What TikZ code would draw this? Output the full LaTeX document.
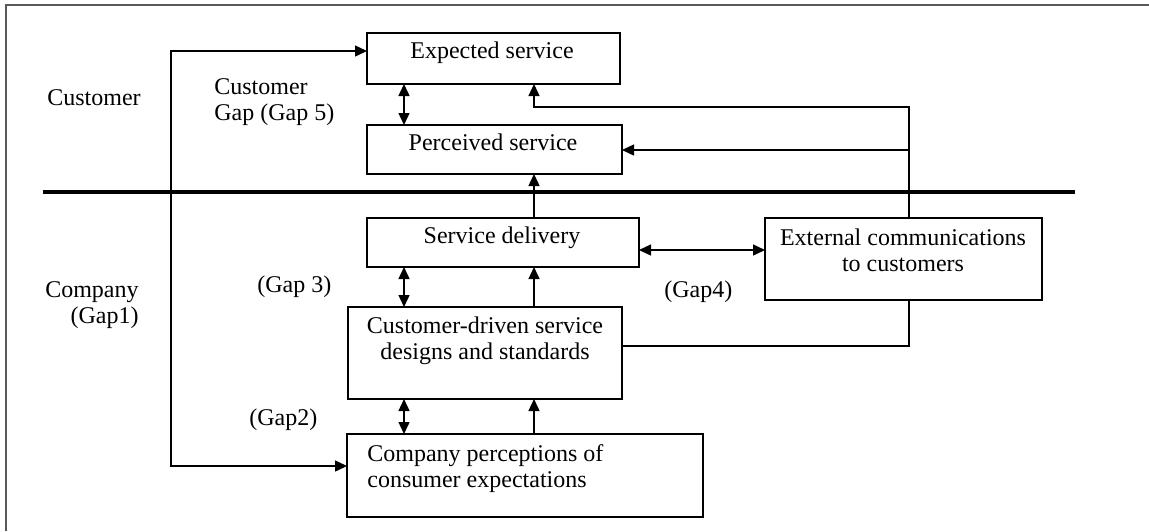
\documentclass[tikz,border=0pt]{standalone}
\usepackage{fontspec}
\setmainfont{Liberation Serif}
\usetikzlibrary{arrows.meta,fit}
\begin{document}
\begin{tikzpicture}[x=0.5pt,y=-0.5pt,
  box/.style={draw, line width=0.8pt, inner sep=0pt, outer sep=0pt},
  txt/.style={inner sep=0pt, font=\fontsize{12}{13}\selectfont, align=center},
  txtl/.style={inner sep=0pt, font=\fontsize{12}{13}\selectfont, align=left},
  txtr/.style={inner sep=0pt, font=\fontsize{12}{13}\selectfont, align=right},
  tip/.tip={Triangle[length=6pt,width=5.5pt]},
  ln/.style={line width=0.7pt},
  arr/.style={-tip, line width=0.7pt},
  darr/.style={tip-tip, line width=0.7pt}]
\useasboundingbox (0,0) rectangle (1149,531);
\draw[gray!70!black, line width=0.7pt] (6,531) -- (6,5) -- (1149,5);

% boxes
\node[box, fit={(367,33) (620,84)}] (exp) {};
\node[box, fit={(367,125) (622,174)}] (perc) {};
\node[box, fit={(367,218) (639,267)}] (sd) {};
\node[box, fit={(348,307) (622,399)}] (cdd) {};
\node[box, fit={(347,434) (703,517)}] (cp) {};
\node[box, fit={(765,218) (1042,300)}] (ext) {};

% box texts (base = last line)
\node[txt, anchor=base] (expt) at (492,58) {Expected service};
\node[txt, anchor=base] (perct) at (493,150) {Perceived service};
\node[txt, anchor=base] (sdt) at (502,243) {Service delivery};
\node[txt, anchor=base] (cddt) at (485,359) {Customer-driven service\\designs and standards};
\node[txtl, anchor=base west] (cpt) at (367,487) {Company perceptions of\\consumer expectations};
\node[txt, anchor=base] (extt) at (903,271) {External communications\\to customers};

% free labels
\node[txtl, anchor=base west] (lcust) at (47,105) {Customer};
\node[txtl, anchor=base west] (lgap5) at (214,120) {Customer\\Gap (Gap 5)};
\node[txtr, anchor=base east] (lcomp) at (139,323) {Company\\(Gap1)};
\node[txtl, anchor=base west] (lgap3) at (257,292) {(Gap 3)};
\node[txtl, anchor=base west] (lgap2) at (249,425) {(Gap2)};
\node[txtl, anchor=base west] (lgap4) at (664,297) {(Gap4)};

% divider
\coordinate (dvl) at (43,192);
\coordinate (dvr) at (1075,192);
\draw[line width=1.6pt] (dvl) -- (dvr);

% helper coordinates
\coordinate (xa) at (404,0);
\coordinate (xb) at (534,0);
\coordinate (L1) at (171,51);
\coordinate (L2) at (171,466);
\coordinate (r1) at (909,107);
\coordinate (r2) at (909,150);
\coordinate (r3) at (909,346);
\coordinate (ym) at (0,250);

% left loop
\draw[darr] (exp.west |- L1) -- (L1) -- (L2) -- (cp.west |- L2);

% vertical links
\draw[darr] (exp.south -| xa) -- (perc.north -| xa);
\draw[arr] (sd.north -| xb) -- (perc.south -| xb);
\draw[darr] (sd.south -| xa) -- (cdd.north -| xa);
\draw[arr] (cdd.north -| xb) -- (sd.south -| xb);
\draw[darr] (cdd.south -| xa) -- (cp.north -| xa);
\draw[arr] (cp.north -| xb) -- (cdd.south -| xb);

% right side
\draw[arr] (r1 |- ext.north) -- (r1) -- (r1 -| xb) -- (exp.south -| xb);
\draw[arr] (r2) -- (perc.east |- r2);
\draw[ln] (r3 |- ext.south) -- (r3) -- (cdd.east |- r3);
\draw[darr] (sd.east |- ym) -- (ext.west |- ym);
\end{tikzpicture}
\end{document}
